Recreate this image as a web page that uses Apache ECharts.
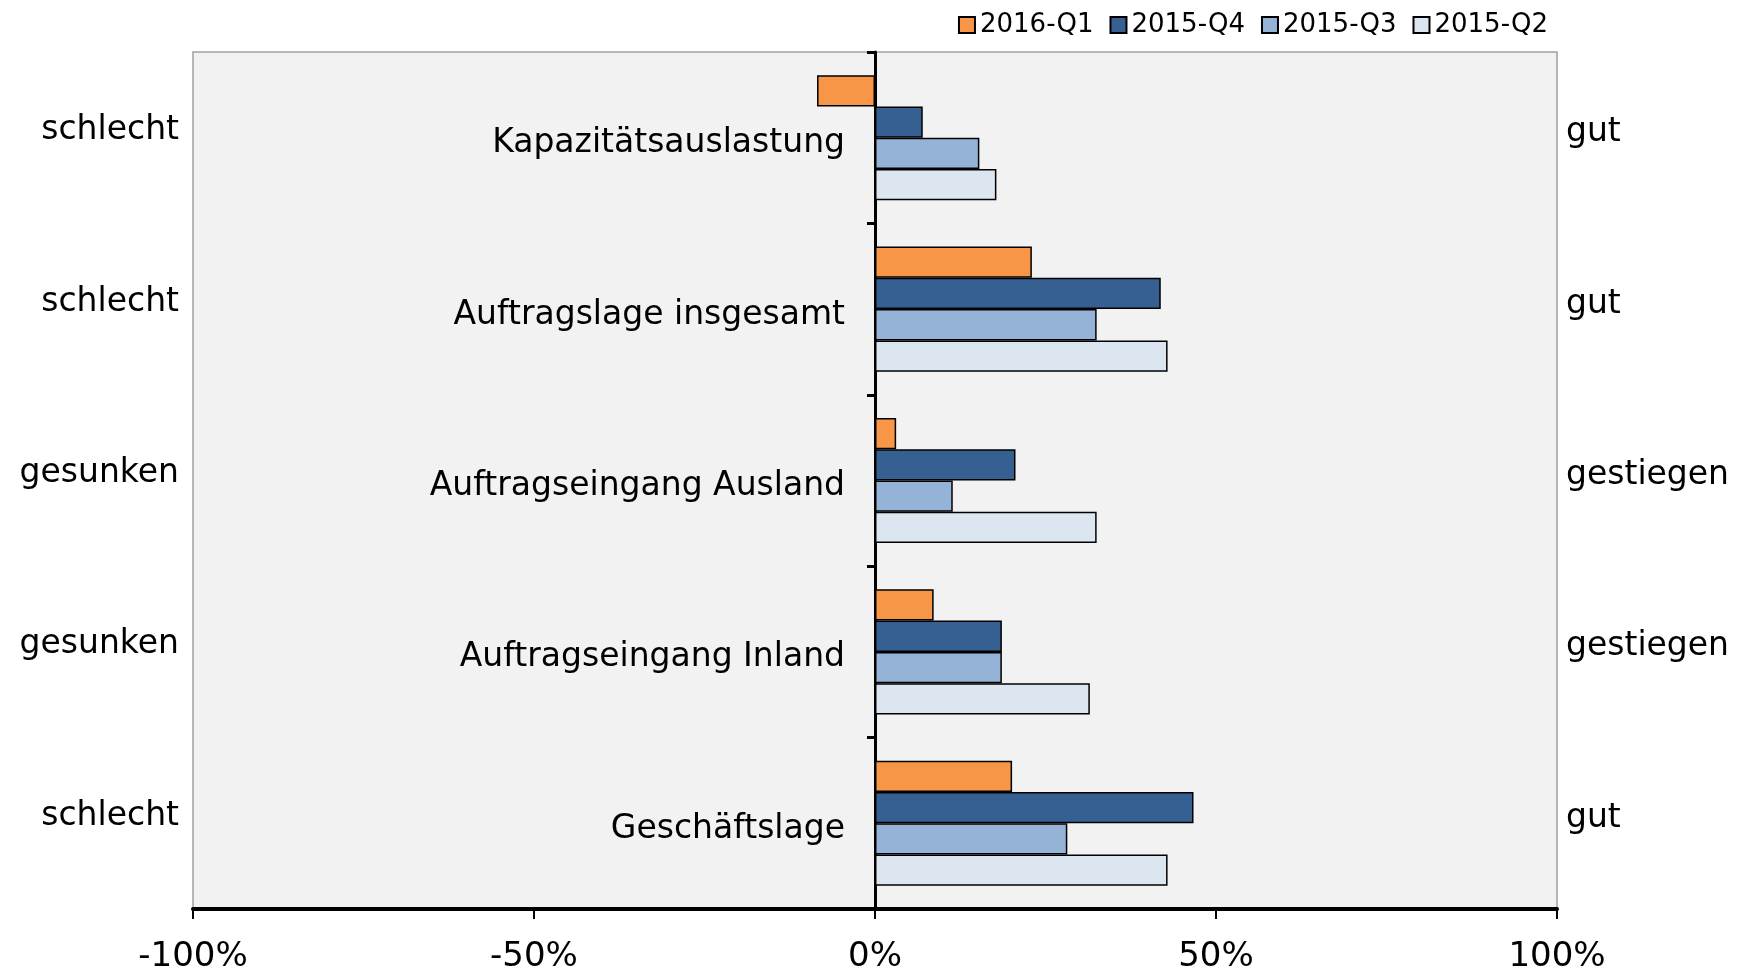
<!DOCTYPE html>
<html>
<head>
<meta charset="utf-8">
<script src="https://cdn.jsdelivr.net/npm/echarts@6/dist/echarts.min.js"></script>
<style>
  html, body { margin: 0; padding: 0; background: #fff; }
  #chart { width: 1745px; height: 974px; }
</style>
</head>
<body>
<div id="chart"></div>
<script>
// Kategorien (von oben nach unten)
var categories = ['Kapazitätsauslastung', 'Auftragslage insgesamt', 'Auftragseingang Ausland', 'Auftragseingang Inland', 'Geschäftslage'];
var leftLabels = ['schlecht', 'schlecht', 'gesunken', 'gesunken', 'schlecht'];
var rightLabels = ['gut', 'gut', 'gestiegen', 'gestiegen', 'gut'];

// Salden in %
var q2016_1 = [-8.5, 23.0, 3.1, 8.6, 20.1];
var q2015_4 = [7.0, 41.9, 20.6, 18.6, 46.7];
var q2015_3 = [15.3, 32.5, 11.4, 18.6, 28.2];
var q2015_2 = [17.8, 42.9, 32.5, 31.5, 42.9];

var seriesNames = ['2016-Q1', '2015-Q4', '2015-Q3', '2015-Q2'];
var seriesColors = ['#F79646', '#366092', '#95B3D7', '#DCE6F1'];
var seriesData = [q2016_1, q2015_4, q2015_3, q2015_2];

var font = 'DejaVu Sans';

// Rasterbereich
var gridLeft = 193, gridRight = 188;
var plotWidth = 1745 - gridLeft - gridRight;
var xMin = -100, xMax = 100;
// Achse der Kategorien sitzt auf der Nulllinie
var zeroOffset = -plotWidth * (0 - xMin) / (xMax - xMin);

var series = [];
for (var i = 0; i < seriesNames.length; i++) {
    series.push({
        name: seriesNames[i],
        type: 'bar',
        yAxisIndex: 0,
        data: seriesData[i],
        barGap: '0%',
        barCategoryGap: '27%',
        itemStyle: { color: seriesColors[i], borderColor: '#000', borderWidth: 1.5 }
    });
}

var option = {
    animation: false,
    legend: {
        data: seriesNames,
        right: 192,
        top: 7,
        icon: 'rect',
        itemWidth: 16,
        itemHeight: 16,
        itemGap: 16,
        textStyle: { fontFamily: font, fontSize: 26, color: '#000' }
    },
    grid: {
        left: gridLeft, right: gridRight, top: 52, bottom: 65,
        containLabel: false,
        outerBoundsMode: 'none',
        show: true,
        backgroundColor: '#F2F2F2',
        borderColor: '#A0A0A0',
        borderWidth: 1.5
    },
    xAxis: {
        type: 'value',
        min: xMin, max: xMax, interval: 50,
        splitLine: { show: false },
        axisLine: { show: true, lineStyle: { color: '#000', width: 4 } },
        axisTick: { show: true, length: 10, lineStyle: { color: '#000', width: 2 } },
        axisLabel: {
            margin: 31,
            fontFamily: font, fontSize: 34, color: '#000',
            formatter: function (v) { return v + '%'; }
        }
    },
    yAxis: [{
        type: 'category',
        inverse: true,
        position: 'left',
        offset: zeroOffset,
        data: categories,
        axisLine: { show: true, onZero: false, lineStyle: { color: '#000', width: 3 } },
        axisTick: { show: true, length: 8, lineStyle: { color: '#000', width: 3 } },
        axisLabel: {
            margin: 30, fontFamily: font, fontSize: 33, color: '#000',
            verticalAlign: 'top', lineHeight: 12
        }
    }, {
        type: 'category',
        inverse: true,
        position: 'left',
        data: categories,
        axisLine: { show: false, onZero: false },
        axisTick: { show: false },
        axisLabel: {
            margin: 14, fontFamily: font, fontSize: 33, color: '#000',
            verticalAlign: 'bottom', lineHeight: 14,
            formatter: function (v, idx) { return leftLabels[idx]; }
        }
    }, {
        type: 'category',
        inverse: true,
        position: 'right',
        data: categories,
        axisLine: { show: false, onZero: false },
        axisTick: { show: false },
        axisLabel: {
            margin: 9, fontFamily: font, fontSize: 33, color: '#000',
            verticalAlign: 'bottom', lineHeight: 10,
            formatter: function (v, idx) { return rightLabels[idx]; }
        }
    }],
    series: series
};

var chart = echarts.init(document.getElementById('chart'));
chart.setOption(option);
</script>
</body>
</html>
